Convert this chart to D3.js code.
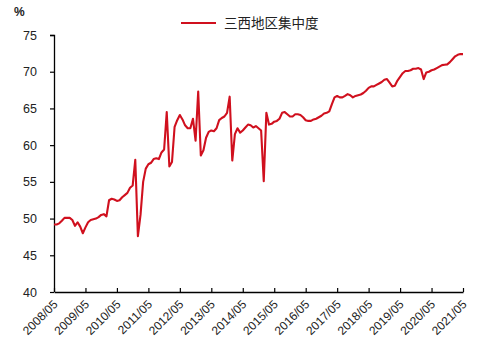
<!DOCTYPE html>
<html><head><meta charset="utf-8">
<script src="https://cdn.jsdelivr.net/npm/d3@7"></script>
<style>
html,body{margin:0;padding:0;background:#fff;}
svg{display:block;}
text{font-family:"Liberation Sans","Noto Sans CJK SC",sans-serif;}
</style></head>
<body>
<svg id="c" width="503" height="352"></svg>
<script>
const seriesName = "三西地区集中度";
const startMonth = "2008-05";
const values = [
49.2,49.2,49.35,49.7,50.1,50.1,50.1,49.8,49.0,49.5,
48.9,48.0,48.8,49.5,49.8,49.9,50.0,50.2,50.5,50.6,
50.3,52.5,52.7,52.6,52.4,52.5,52.9,53.2,53.5,54.2,
54.5,58.0,47.6,50.5,55.0,56.8,57.4,57.6,58.1,58.2,
58.1,59.0,59.4,64.5,57.1,57.7,62.5,63.4,64.1,63.5,
62.7,62.3,62.3,63.6,60.6,67.3,58.6,59.3,61.0,61.8,
62.0,61.9,62.3,63.4,63.7,63.9,64.4,66.6,57.9,61.5,
62.3,61.7,62.0,62.4,62.8,62.7,62.4,62.6,62.3,62.0,
55.1,64.4,62.8,62.9,63.2,63.3,63.6,64.4,64.5,64.2,
63.9,63.9,64.2,64.2,64.1,63.8,63.4,63.3,63.3,63.5,
63.6,63.8,64.0,64.3,64.4,64.6,65.6,66.5,66.7,66.5,
66.5,66.7,66.95,66.8,66.5,66.7,66.8,66.9,67.1,67.4,
67.8,68.0,68.0,68.2,68.4,68.6,68.9,69.0,68.5,68.0,
68.1,68.8,69.3,69.8,70.1,70.1,70.2,70.4,70.4,70.5,
70.3,69.0,69.9,70.0,70.2,70.3,70.5,70.7,70.9,70.95,
71.0,71.3,71.7,72.1,72.3,72.4,72.4
];
const yTicks = [40,45,50,55,60,65,70,75];
const xTickLabels = ["2008/05","2009/05","2010/05","2011/05","2012/05","2013/05","2014/05","2015/05","2016/05","2017/05","2018/05","2019/05","2020/05","2021/05"];

const svg = d3.select("#c");
const color = "#d0101e";
const x = d3.scaleLinear().domain([0, 156]).range([54, 463]);
const y = d3.scaleLinear().domain([40, 75]).range([292, 35]);

// y axis
const gy = svg.append("g").attr("transform","translate(54,0)")
  .call(d3.axisLeft(y).tickValues(yTicks).tickSize(4).tickPadding(13));
gy.select(".domain").attr("stroke","#000").attr("stroke-width",1.3).attr("d","M-4,35.5H0.5V292");
gy.selectAll(".tick line").attr("stroke","#000").attr("stroke-width",1.2);
gy.selectAll(".tick text").attr("font-size",12.5).attr("fill","#222");

// x axis
const xTickIdx = xTickLabels.map((d,i)=>i*12);
const gx = svg.append("g").attr("transform","translate(0,292)")
  .call(d3.axisBottom(x).tickValues(xTickIdx).tickFormat((d,i)=>xTickLabels[i]).tickSize(-4).tickSizeOuter(0));
gx.select(".domain").attr("stroke","#000").attr("stroke-width",1.3);
gx.selectAll(".tick line").attr("stroke","#000").attr("stroke-width",1.2);
gx.selectAll(".tick text").attr("font-size",12).attr("fill","#222")
  .attr("text-anchor","end").attr("dy",0).attr("y",0)
  .attr("transform","translate(4,13) rotate(-45)");

// line
const line = d3.line().x((d,i)=>x(i)).y(d=>y(d));
svg.append("path").datum(values).attr("d",line)
  .attr("fill","none").attr("stroke",color).attr("stroke-width",2.1).attr("stroke-linejoin","round");

// % label
svg.append("text").attr("x",14).attr("y",16).attr("font-size",12).attr("font-weight","bold").attr("fill","#222").text("%");

// legend
svg.append("line").attr("x1",181).attr("x2",216).attr("y1",23).attr("y2",23).attr("stroke",color).attr("stroke-width",2);
svg.append("text").attr("x",224).attr("y",28).attr("font-size",13.5).attr("fill","#222")
  .style("font-family","'Noto Sans CJK SC',sans-serif").text(seriesName);
</script>
</body></html>
